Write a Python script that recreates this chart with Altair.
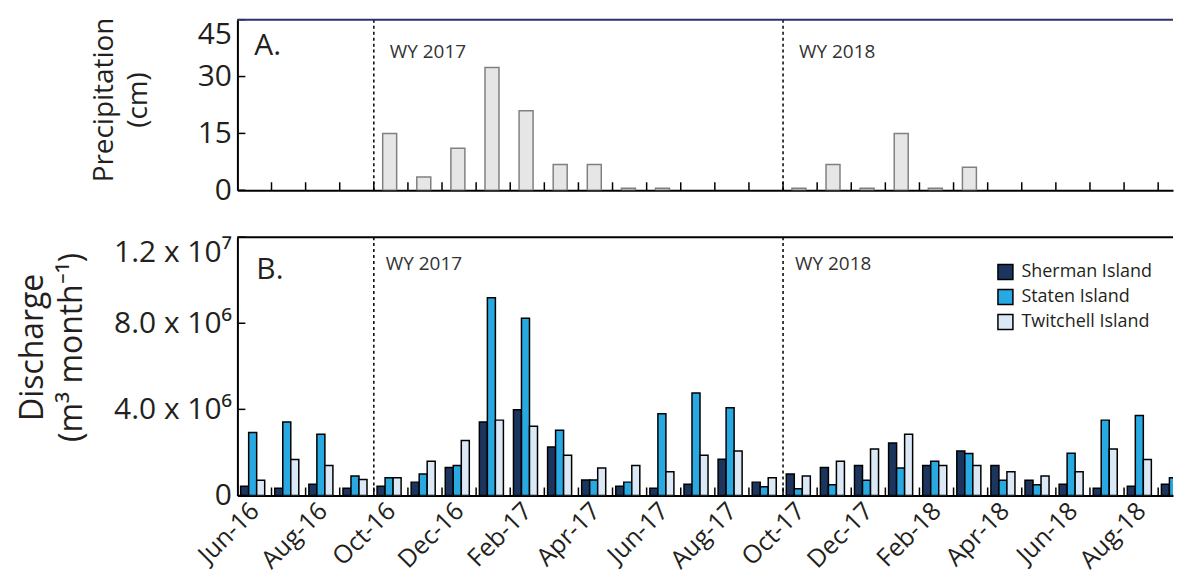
import json
import altair as alt
import pandas as pd

# ---------------- data ----------------
months = ["Jun-16", "Jul-16", "Aug-16", "Sep-16", "Oct-16", "Nov-16", "Dec-16",
          "Jan-17", "Feb-17", "Mar-17", "Apr-17", "May-17", "Jun-17", "Jul-17",
          "Aug-17", "Sep-17", "Oct-17", "Nov-17", "Dec-17", "Jan-18", "Feb-18",
          "Mar-18", "Apr-18", "May-18", "Jun-18", "Jul-18", "Aug-18", "Sep-18"]

precip_cm = [0, 0, 0, 0, 15.0, 3.5, 11.1, 32.4, 21.0, 6.8, 6.8, 0.5, 0.5, 0,
             0, 0, 0.5, 6.8, 0.5, 15.0, 0.5, 6.1, 0, 0, 0, 0, 0, 0]

sherman = [0.43e6, 0.34e6, 0.52e6, 0.34e6, 0.43e6, 0.62e6, 1.30e6, 3.41e6, 3.98e6, 2.25e6,
           0.72e6, 0.43e6, 0.34e6, 0.52e6, 1.68e6, 0.62e6, 1.00e6, 1.30e6, 1.39e6, 2.44e6,
           1.39e6, 2.07e6, 1.39e6, 0.71e6, 0.52e6, 0.34e6, 0.43e6, 0.52e6]
staten = [2.93e6, 3.41e6, 2.84e6, 0.90e6, 0.82e6, 1.00e6, 1.39e6, 9.19e6, 8.23e6, 3.03e6,
          0.72e6, 0.62e6, 3.80e6, 4.76e6, 4.08e6, 0.40e6, 0.31e6, 0.50e6, 0.71e6, 1.28e6,
          1.59e6, 1.95e6, 0.71e6, 0.50e6, 1.96e6, 3.50e6, 3.71e6, 0.82e6]
twitchell = [0.71e6, 1.67e6, 1.39e6, 0.74e6, 0.82e6, 1.59e6, 2.55e6, 3.50e6, 3.21e6, 1.87e6,
             1.28e6, 1.39e6, 1.10e6, 1.87e6, 2.07e6, 0.82e6, 0.91e6, 1.59e6, 2.16e6, 2.84e6,
             1.39e6, 1.39e6, 1.10e6, 0.91e6, 1.10e6, 2.16e6, 1.67e6, 0.80e6]

series_names = ["Sherman Island", "Staten Island", "Twitchell Island"]
series_colors = ["#1c355e", "#29a9e1", "#dbe8f5"]

wy_labels = ["WY 2017", "WY 2018"]
wy_start = [4, 16]

precip_ticks = [0, 15, 30, 45]
discharge_ticks = [0, 4000000, 8000000, 12000000]
discharge_tick_labels = ["0", "4.0 x 10\u2076", "8.0 x 10\u2076", "1.2 x 10\u2077"]

# ---------------- layout constants ----------------
W = 938
H_TOP = 171
H_BOT = 259
MONTH_PX = 34.19
XMAX = W / MONTH_PX
FONT = "Open Sans"
INK = "#231f20"

idx = list(range(len(months)))
precip_df = pd.DataFrame({"i": idx, "month": months, "precip": precip_cm})
dis_df = pd.DataFrame({
    "i": idx * 3,
    "month": months * 3,
    "series": sum([[s] * len(months) for s in series_names], []),
    "value": sherman + staten + twitchell,
})
wy_df = pd.DataFrame({"pos": wy_start, "label": wy_labels})
mtick_df = pd.DataFrame({"t": list(range(1, len(months)))})
ptick_df = pd.DataFrame({"v": precip_ticks})
dtick_df = pd.DataFrame({"v": discharge_ticks})
one = pd.DataFrame({"a": [0]})

xlabel_vals = [i + 0.5 for i in range(0, len(months), 2)]
xlabel_txt = months[0::2]
x_label_expr = json.dumps(xlabel_txt) + "[floor(datum.value / 2)]"
d_label_expr = (json.dumps(discharge_tick_labels) + "[indexof(" +
                json.dumps(discharge_ticks) + ", datum.value)]")

xs = alt.Scale(domain=[0, XMAX], nice=False, zero=False)
ys_top = alt.Scale(domain=[0, 45], nice=False)
ys_bot = alt.Scale(domain=[0, 12000000], nice=False)


def panel_common(H, xaxis, wy_dx, wy_y, letter, lx, ly, top_color):
    dashed = alt.Chart(wy_df).mark_rule(strokeDash=[3, 3], strokeWidth=1.5, color="black").encode(
        x=alt.X("pos:Q", scale=xs, axis=xaxis))
    wy = alt.Chart(wy_df).mark_text(align="left", baseline="middle", dx=wy_dx, font=FONT,
                                    fontSize=19, color="#333333").encode(
        x=alt.X("pos:Q", scale=xs, axis=xaxis), y=alt.value(wy_y), text="label:N")
    mt = alt.Chart(mtick_df).mark_rule(color="black", strokeWidth=1.5).encode(
        x=alt.X("t:Q", scale=xs, axis=xaxis), y=alt.value(H), y2=alt.value(H - 8))
    topline = alt.Chart(one).mark_rule(color=top_color, strokeWidth=2).encode(
        x=alt.value(0), x2=alt.value(W), y=alt.value(0))
    let = alt.Chart(one).mark_text(align="left", baseline="middle", font=FONT, fontSize=30,
                                   color=INK).encode(
        x=alt.value(lx), y=alt.value(ly), text=alt.value(letter))
    return [dashed, wy, mt, topline, let]


# ---------------- top panel ----------------
top_axis_x = alt.Axis(labels=False, ticks=False, grid=False, title=None,
                      domainColor="black", domainWidth=2)
top_axis_y = alt.Axis(values=precip_ticks, ticks=False, grid=False, labelFontSize=30,
                      labelFont=FONT, labelColor=INK, labelPadding=6, labelOverlap=False,
                      domainColor="black", domainWidth=2,
                      labelBaseline={"condition": {"test": "datum.value >= 45", "value": "top"},
                                     "value": "middle"},
                      title=["Precipitation", "(cm)"], titleFont=FONT, titleFontSize=28,
                      titleFontWeight="normal", titleColor=INK, titleAngle=270,
                      titleAlign="center", titleBaseline="alphabetic",
                      titleX=-125, titleY=80, titleLineHeight=34)

top_bars = alt.Chart(precip_df).transform_filter("datum.precip > 0").transform_calculate(
    x0="datum.i + 0.26", x1="datum.i + 0.67"
).mark_bar(fill="#e6e6e6", stroke="#808080", strokeWidth=1.5, clip=True).encode(
    x=alt.X("x0:Q", scale=xs, axis=top_axis_x),
    x2="x1:Q",
    y=alt.Y("precip:Q", scale=ys_top, axis=top_axis_y),
    y2=alt.datum(0),
)
top_yt = alt.Chart(ptick_df).mark_rule(color="black", strokeWidth=1.5).encode(
    y=alt.Y("v:Q", scale=ys_top, axis=top_axis_y), x=alt.value(0), x2=alt.value(8))

top = alt.layer(top_bars, top_yt,
                *panel_common(H_TOP, top_axis_x, 16, 32, "A.", 17, 26, "#2e3170")
                ).properties(width=W, height=H_TOP)

# ---------------- bottom panel ----------------
bot_axis_x = alt.Axis(values=xlabel_vals, labelExpr=x_label_expr, ticks=False, grid=False,
                      labelFontSize=25, labelFont=FONT, labelColor=INK, labelAngle=315,
                      labelAlign="right", labelBaseline="middle", labelPadding=11,
                      labelFlush=False, labelOverlap=False, labelBound=False,
                      domainColor="black", domainWidth=2, title=None)
bot_axis_y = alt.Axis(values=discharge_ticks, labelExpr=d_label_expr, ticks=False, grid=False,
                      labelFontSize=30, labelFont=FONT, labelColor=INK, labelPadding=6,
                      labelOverlap=False, domainColor="black", domainWidth=2,
                      labelBaseline={"condition": {"test": "datum.value >= 12000000", "value": "top"},
                                     "value": "middle"},
                      title=["Discharge", "(m\u00b3 month\u207b\u00b9)"], titleFont=FONT,
                      titleFontSize=32, titleFontWeight="normal", titleColor=INK,
                      titleAngle=270, titleAlign="center", titleBaseline="alphabetic",
                      titleX=-195, titleY=110, titleLineHeight=39)

bot_bars = alt.Chart(dis_df).transform_calculate(
    k="indexof(" + json.dumps(series_names) + ", datum.series)"
).transform_calculate(
    x0="datum.i + 0.095 + 0.235 * datum.k",
    x1="datum.i + 0.095 + 0.235 * (datum.k + 1)",
).mark_bar(stroke="black", strokeWidth=1.5, clip=True).encode(
    x=alt.X("x0:Q", scale=xs, axis=bot_axis_x),
    x2="x1:Q",
    y=alt.Y("value:Q", scale=ys_bot, axis=bot_axis_y),
    y2=alt.datum(0),
    color=alt.Color("series:N", scale=alt.Scale(domain=series_names, range=series_colors),
                    legend=alt.Legend(orient="none", legendX=761, legendY=244, title=None,
                                      symbolType="square", symbolSize=225,
                                      symbolStrokeColor="black", symbolStrokeWidth=1.5,
                                      symbolOpacity=1, labelFontSize=18, labelFont=FONT,
                                      labelColor=INK, rowPadding=3, labelOffset=7)),
)
bot_yt = alt.Chart(dtick_df).mark_rule(color="black", strokeWidth=1.5).encode(
    y=alt.Y("v:Q", scale=ys_bot, axis=bot_axis_y), x=alt.value(0), x2=alt.value(8))

bottom = alt.layer(bot_bars, bot_yt,
                   *panel_common(H_BOT, bot_axis_x, 12, 27, "B.", 19, 33, "black")
                   ).properties(width=W, height=H_BOT)

chart = alt.vconcat(top, bottom, spacing=31).properties(
    padding={"left": 9, "top": 8, "right": 0, "bottom": 0},
    background="white",
).configure_view(stroke=None)

chart.save("out.html", embed_options={"renderer": "svg", "actions": False})
